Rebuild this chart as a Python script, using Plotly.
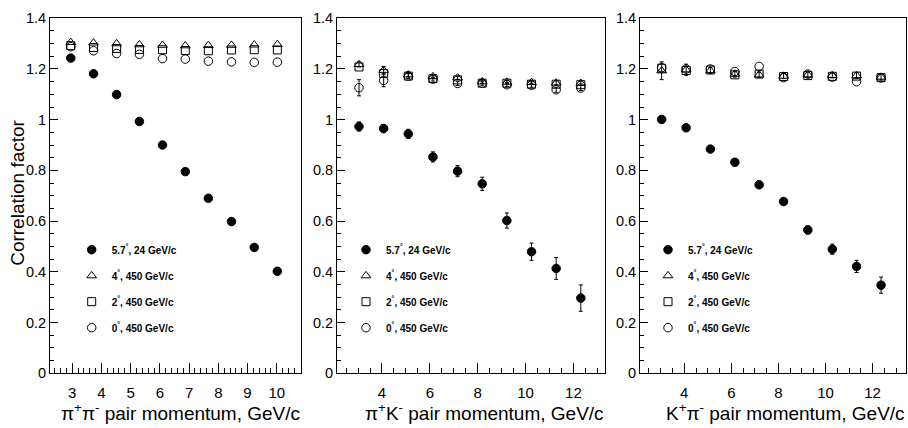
import plotly.graph_objects as go

# ---------------- data ----------------
p1_x = [2.95, 3.73, 4.52, 5.30, 6.09, 6.87, 7.66, 8.45, 9.23, 10.02]
p1_57 = [1.243, 1.181, 1.099, 0.993, 0.900, 0.795, 0.690, 0.598, 0.496, 0.402]
p1_57_err = [0.004, 0.004, 0.004, 0.004, 0.004, 0.004, 0.004, 0.004, 0.005, 0.005]
p1_4 = [1.305, 1.303, 1.300, 1.296, 1.294, 1.292, 1.293, 1.294, 1.295, 1.297]
p1_2 = [1.292, 1.285, 1.281, 1.277, 1.276, 1.273, 1.272, 1.275, 1.276, 1.275]
p1_0 = [1.288, 1.272, 1.261, 1.258, 1.241, 1.239, 1.231, 1.228, 1.226, 1.227]

p2_x = [3.04, 4.07, 5.10, 6.13, 7.16, 8.19, 9.22, 10.25, 11.28, 12.31]
p2_57 = [0.973, 0.965, 0.944, 0.853, 0.797, 0.747, 0.602, 0.479, 0.413, 0.296]
p2_57_err = [0.018, 0.016, 0.018, 0.020, 0.022, 0.026, 0.030, 0.034, 0.043, 0.052]
p2_4 = [1.218, 1.195, 1.177, 1.170, 1.165, 1.150, 1.148, 1.147, 1.145, 1.144]
p2_4_err = [0.010, 0.015, 0.008, 0.006, 0.006, 0.006, 0.006, 0.006, 0.008, 0.008]
p2_2 = [1.208, 1.182, 1.172, 1.162, 1.157, 1.144, 1.144, 1.140, 1.140, 1.138]
p2_0 = [1.126, 1.155, 1.172, 1.160, 1.143, 1.144, 1.138, 1.136, 1.118, 1.125]
p2_0_err = [0.032, 0.025, 0.010, 0.008, 0.008, 0.008, 0.008, 0.008, 0.010, 0.010]

p3_x = [3.04, 4.08, 5.11, 6.15, 7.18, 8.22, 9.25, 10.29, 11.32, 12.36]
p3_57 = [1.001, 0.968, 0.884, 0.832, 0.743, 0.677, 0.565, 0.489, 0.421, 0.347]
p3_57_err = [0.006, 0.006, 0.007, 0.008, 0.009, 0.012, 0.016, 0.020, 0.024, 0.032]
p3_4 = [1.193, 1.197, 1.194, 1.180, 1.177, 1.172, 1.177, 1.175, 1.174, 1.168]
p3_4_err = [0.035, 0.022, 0.012, 0.012, 0.010, 0.010, 0.010, 0.010, 0.012, 0.012]
p3_2 = [1.203, 1.194, 1.196, 1.177, 1.180, 1.170, 1.174, 1.171, 1.172, 1.166]
p3_0 = [1.205, 1.200, 1.200, 1.190, 1.210, 1.166, 1.180, 1.168, 1.150, 1.165]

series_names = ["<b>5.7<sup>°</sup>, 24 GeV/c</b>", "<b>4<sup>°</sup>, 450 GeV/c</b>",
                "<b>2<sup>°</sup>, 450 GeV/c</b>", "<b>0<sup>°</sup>, 450 GeV/c</b>"]
x_titles = ["π<sup>+</sup>π<sup>-</sup> pair momentum, GeV/c",
            "π<sup>+</sup>K<sup>-</sup> pair momentum, GeV/c",
            "K<sup>+</sup>π<sup>-</sup> pair momentum, GeV/c"]
y_title = "Correlation factor"

# ---------------- layout geometry ----------------
W, H = 908, 428
FONT = "Liberation Sans, Arial, Helvetica, sans-serif"
px_dom = [(50, 301), (337, 604.5), (640, 906)]
y_top, y_bot = 10.7, 379.3
ydom = [1 - y_bot / H, 1 - y_top / H]
xranges = [[2.24, 10.83], [2.12, 13.3], [2.12, 13.42]]
xdticks = [1, 2, 2]
xminor = [0.2, 0.5, 0.5]
legend_text_x = [110.7, 385, 687]

panels = [
    (p1_x, [(p1_57, p1_57_err), (p1_4, None), (p1_2, None), (p1_0, None)]),
    (p2_x, [(p2_57, p2_57_err), (p2_4, p2_4_err), (p2_2, None), (p2_0, p2_0_err)]),
    (p3_x, [(p3_57, p3_57_err), (p3_4, p3_4_err), (p3_2, None), (p3_0, None)]),
]
symbols = ["circle", "triangle-up-open", "square-open", "circle-open"]
sizes = [8.5, 8.5, 8, 8.5]

fig = go.Figure()
for i, (xs, sers) in enumerate(panels):
    ax = "" if i == 0 else str(i + 1)
    leg = "legend" if i == 0 else f"legend{i + 1}"
    for j, (ys, err) in enumerate(sers):
        tr = dict(
            x=xs, y=ys, mode="markers", xaxis="x" + ax, yaxis="y" + ax,
            name=series_names[j], legend=leg, legendgroup=f"p{i}s{j}",
            marker=dict(symbol=symbols[j], size=sizes[j], color="black",
                        line=dict(color="black", width=1)),
            showlegend=True, hoverinfo="skip",
        )
        if err is not None:
            tr["error_y"] = dict(type="data", array=err, color="black", thickness=1, width=2)
        fig.add_trace(go.Scatter(**tr))

layout = dict(
    width=W, height=H, margin=dict(l=0, r=0, t=0, b=0),
    paper_bgcolor="white", plot_bgcolor="white",
    font=dict(family=FONT, color="black", size=15),
    annotations=[],
)
for i in range(3):
    ax = "" if i == 0 else str(i + 1)
    x0, x1 = px_dom[i]
    layout["xaxis" + ax] = dict(
        domain=[x0 / W, x1 / W], range=xranges[i], anchor="y" + ax,
        showline=True, linecolor="black", linewidth=1, mirror=True,
        ticks="inside", ticklen=10, tickwidth=1, tickcolor="black",
        tick0=0, dtick=xdticks[i],
        minor=dict(dtick=xminor[i], ticks="inside", ticklen=5, tickcolor="black", tickwidth=1, showgrid=False),
        showgrid=False, zeroline=False, tickfont=dict(size=15, family=FONT),
        ticklabelstandoff=6,
    )
    layout["yaxis" + ax] = dict(
        domain=ydom, range=[0, 1.4], anchor="x" + ax,
        showline=True, linecolor="black", linewidth=1, mirror=True,
        ticks="inside", ticklen=8, tickwidth=1, tickcolor="black",
        tick0=0, dtick=0.2,
        minor=dict(dtick=0.05, ticks="inside", ticklen=4, tickcolor="black", tickwidth=1, showgrid=False),
        showgrid=False, zeroline=False, tickfont=dict(size=14.5, family=FONT),
    )
    leg = "legend" if i == 0 else f"legend{i + 1}"
    layout[leg] = dict(
        x=(legend_text_x[i] - 39) / W, y=1 - 236 / H, xanchor="left", yanchor="top",
        bgcolor="rgba(0,0,0,0)", borderwidth=0, font=dict(size=10, family=FONT),
        tracegroupgap=7, itemclick=False, itemdoubleclick=False,
    )
    layout["annotations"].append(dict(
        text=x_titles[i], xref="paper", yref="paper", x=(x1 + 1) / W, y=-6 / H,
        xanchor="right", yanchor="bottom", showarrow=False,
        font=dict(size=19, family=FONT),
    ))
layout["annotations"].append(dict(
    text=y_title, xref="paper", yref="paper", x=18 / W, y=1 - 192 / H,
    xanchor="center", yanchor="middle", textangle=-90, showarrow=False,
    font=dict(size=19, family=FONT),
))
fig.update_layout(**layout)
fig.write_html("out.html", config={"displayModeBar": False},
               post_script="document.body.style.margin='0px';")
